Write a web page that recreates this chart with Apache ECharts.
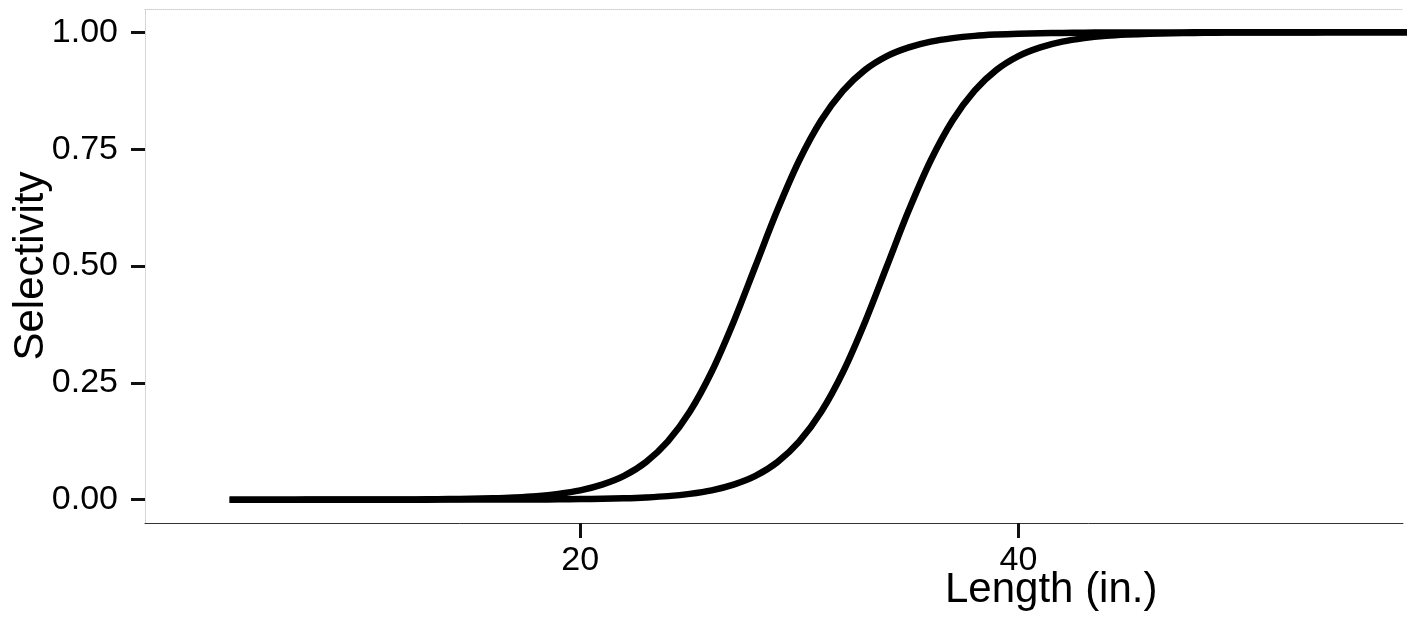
<!DOCTYPE html>
<html>
<head>
<meta charset="utf-8">
<script src="https://cdn.jsdelivr.net/npm/echarts@6/dist/echarts.min.js"></script>
<style>
  html, body { margin: 0; padding: 0; background: #fff; }
  #chart { width: 1413px; height: 625px; }
</style>
</head>
<body>
<div id="chart"></div>
<script>
// length (in.) sampled every inch
const lengths = [4, 5, 6, 7, 8, 9, 10, 11, 12, 13, 14, 15, 16, 17, 18, 19, 20, 21, 22, 23,
  24, 25, 26, 27, 28, 29, 30, 31, 32, 33, 34, 35, 36, 37, 38, 39, 40, 41, 42, 43,
  44, 45, 46, 47, 48, 49, 50, 51, 52, 53, 54, 55, 56, 57, 58]

// left curve
const selA = [0, 0, 0, 0, 0.0001, 0.0001, 0.0002, 0.0003, 0.0004, 0.0007, 0.0011, 0.0018,
  0.0029, 0.0047, 0.0075, 0.0123, 0.0198, 0.032, 0.0507, 0.0802, 0.1245, 0.188, 0.2737,
  0.3804, 0.5, 0.6196, 0.7263, 0.812, 0.8755, 0.9198, 0.9493, 0.968, 0.9802, 0.9877,
  0.9925, 0.9953, 0.9971, 0.9982, 0.9989, 0.9993, 0.9996, 0.9997, 0.9998, 0.9999, 1, 1,
  1, 1, 1, 1, 1, 1, 1, 1, 1]

// right curve
const selB = [0, 0, 0, 0, 0, 0, 0, 0, 0, 0, 0.0001, 0.0001, 0.0002, 0.0003, 0.0004, 0.0007,
  0.0011, 0.0018, 0.0029, 0.0047, 0.0075, 0.0123, 0.0198, 0.032, 0.0507, 0.0802, 0.1245,
  0.188, 0.2737, 0.3804, 0.5, 0.6196, 0.7263, 0.812, 0.8755, 0.9198, 0.9493, 0.968,
  0.9802, 0.9877, 0.9925, 0.9953, 0.9971, 0.9982, 0.9989, 0.9993, 0.9996, 0.9997, 0.9998,
  0.9999, 1, 1, 1, 1, 1]

const xTicks = [20, 40]
const yTicks = [0, 0.25, 0.5, 0.75, 1]

const font = '"Liberation Sans", Arial, Helvetica, sans-serif'
const chart = echarts.init(document.getElementById('chart'))

const lineSeries = (vals) => ({
  type: 'line',
  data: lengths.map((x, i) => [x, vals[i]]),
  showSymbol: false,
  smooth: 0.35,
  lineStyle: { color: '#000', width: 6.5, cap: 'butt', join: 'round' },
  animation: false
})

chart.setOption({
  backgroundColor: '#fff',
  animation: false,
  title: {
    text: 'Length (in.)',
    left: 945,
    top: 569,
    padding: 0,
    textStyle: { fontFamily: font, fontSize: 42, fontWeight: 'normal', color: '#000' }
  },
  grid: { left: 145, right: 10, top: 9, bottom: 102, outerBoundsMode: 'none' },
  xAxis: [{
    type: 'value',
    min: 0.14,
    max: 57.55,
    axisLine: { show: true, onZero: false, lineStyle: { color: '#333', width: 1 } },
    axisTick: { show: true, customValues: xTicks, length: 15, lineStyle: { color: '#111', width: 3 } },
    axisLabel: {
      customValues: xTicks, margin: 21,
      fontFamily: font, fontSize: 34, color: '#000'
    },
    splitLine: { show: false }
  }, {
    // faint top border
    type: 'value',
    position: 'top',
    min: 0.14,
    max: 57.55,
    axisLine: { show: true, onZero: false, lineStyle: { color: '#ccc', width: 1, type: 'dotted' } },
    axisTick: { show: false },
    axisLabel: { show: false },
    splitLine: { show: false }
  }],
  yAxis: {
    type: 'value',
    min: -0.05,
    max: 1.05,
    name: 'Selectivity',
    nameLocation: 'middle',
    nameGap: 93,
    nameMoveOverlap: false,
    nameTextStyle: { fontFamily: font, fontSize: 42, color: '#000' },
    axisLine: { show: true, onZero: false, lineStyle: { color: '#ccc', width: 1, type: 'dotted' } },
    axisTick: { show: true, customValues: yTicks, length: 14, lineStyle: { color: '#111', width: 3 } },
    axisLabel: {
      customValues: yTicks, margin: 27,
      fontFamily: font, fontSize: 34, color: '#000',
      formatter: (v) => v.toFixed(2)
    },
    splitLine: { show: false }
  },
  series: [lineSeries(selA), lineSeries(selB)]
})
</script>
</body>
</html>
